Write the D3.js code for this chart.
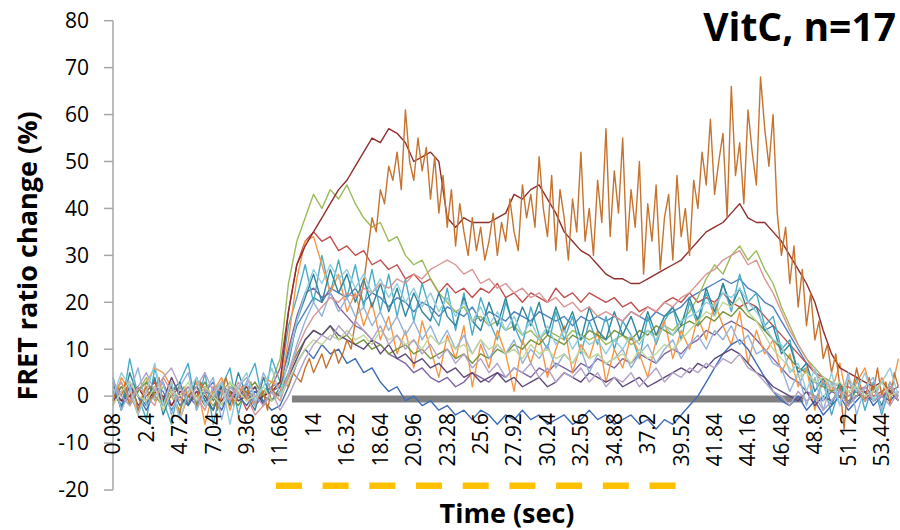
<!DOCTYPE html>
<html lang="en">
<head>
<meta charset="UTF-8">
<title>VitC FRET ratio change</title>
<style>
  body { margin: 0; background: #fff; }
  svg { display: block; }
  .tick-label { font-family: "Open Sans", sans-serif; font-size: 21px; fill: #000; }
  .axis-title { font-family: "Open Sans", sans-serif; font-size: 27px; font-weight: bold; fill: #000; }
  .trace { fill: none; stroke-width: 1.4; stroke-linejoin: round; }
</style>
<script src="https://d3js.org/d3.v7.min.js"></script>
</head>
<body>
<svg width="900" height="530"></svg>
<script>
// sampling times (sec); cell12 was sampled twice as often (half-steps in between)
const time = [
  0.08, 0.66, 1.24, 1.82, 2.40, 2.98, 3.56, 4.14, 4.72, 5.30,
  5.88, 6.46, 7.04, 7.62, 8.20, 8.78, 9.36, 9.94, 10.52, 11.10,
  11.68, 12.26, 12.84, 13.42, 14.00, 14.58, 15.16, 15.74, 16.32, 16.90,
  17.48, 18.06, 18.64, 19.22, 19.80, 20.38, 20.96, 21.54, 22.12, 22.70,
  23.28, 23.86, 24.44, 25.02, 25.60, 26.18, 26.76, 27.34, 27.92, 28.50,
  29.08, 29.66, 30.24, 30.82, 31.40, 31.98, 32.56, 33.14, 33.72, 34.30,
  34.88, 35.46, 36.04, 36.62, 37.20, 37.78, 38.36, 38.94, 39.52, 40.10,
  40.68, 41.26, 41.84, 42.42, 43.00, 43.58, 44.16, 44.74, 45.32, 45.90,
  46.48, 47.06, 47.64, 48.22, 48.80, 49.38, 49.96, 50.54, 51.12, 51.70,
  52.28, 52.86, 53.44, 54.02, 54.60
];

const xTickLabels = ["0.08", "2.4", "4.72", "7.04", "9.36", "11.68", "14", "16.32", "18.64",
  "20.96", "23.28", "25.6", "27.92", "30.24", "32.56", "34.88", "37.2", "39.52",
  "41.84", "44.16", "46.48", "48.8", "51.12", "53.44"];
const yTicks = [-20, -10, 0, 10, 20, 30, 40, 50, 60, 70, 80];

// stimulus markers
const barSpan = [12.5, 48.0];
const barLevel = -0.6;
const pulseSpan = [11.39, 39.16];
const pulseLevel = -19.1;

// FRET ratio change (%), 17 cells
const cell1 = [2, -1, 3, 0, -2, 2, 1, -3, 0, 2,
  -1, 1, 3, -2, 0, 2, -1, 1, 0, 2,
  3, 9, 15, 18, 21, 20, 23, 22, 21, 23,
  20, 22, 21, 19, 21, 20, 18, 20, 19, 17,
  19, 18, 17, 19, 16, 18, 17, 16, 18, 17,
  16, 18, 17, 16, 17, 15, 17, 16, 17, 16,
  17, 16, 18, 17, 16, 18, 17, 18, 19, 21,
  22, 23, 24, 25, 24, 25, 23, 22, 20, 19,
  16, 13, 10, 7, 5, 3, 2, 1, 0, 1,
  -1, 1, 0, -1, 1];
const cell2 = [-1, 2, 0, -3, 1, 3, -2, 0, 2, -1,
  1, -2, 0, 2, -1, 1, -3, 0, 1, 2,
  6, 18, 28, 33, 35, 33, 34, 31, 32, 30,
  31, 28, 29, 27, 28, 25, 26, 24, 25, 22,
  24, 22, 23, 21, 23, 22, 24, 21, 22, 20,
  22, 21, 20, 23, 21, 22, 20, 22, 21, 20,
  21, 19, 20, 18, 19, 18, 20, 21, 20, 22,
  20, 21, 20, 22, 20, 19, 20, 19, 17, 15,
  13, 11, 9, 7, 5, 4, 3, 2, 2, 1,
  2, 0, 1, 2, 0];
const cell3 = [0, 3, -2, 1, 4, -1, 2, 0, -3, 1,
  2, 0, -2, 1, 3, -1, 0, 2, 1, 3,
  8, 24, 33, 38, 43, 40, 44, 42, 45, 41,
  38, 36, 37, 33, 34, 30, 28, 29, 25, 22,
  20, 18, 19, 16, 17, 15, 16, 14, 15, 13,
  14, 12, 14, 13, 12, 14, 13, 12, 13, 11,
  12, 13, 11, 12, 14, 13, 15, 14, 16, 18,
  21, 25, 28, 26, 30, 32, 29, 31, 27, 24,
  19, 15, 11, 8, 6, 4, 3, 2, 1, 0,
  1, -1, 0, 1, -1];
const cell4 = [1, -2, 0, 2, -1, 0, 3, -2, 1, 0,
  -2, 1, 0, -1, 2, 0, 1, -2, 0, 1,
  2, 10, 17, 22, 23, 21, 22, 19, 17, 15,
  14, 12, 11, 9, 8, 7, 5, 6, 4, 3,
  4, 2, 3, 5, 4, 3, 5, 4, 6, 5,
  4, 6, 5, 7, 6, 5, 7, 6, 8, 7,
  6, 8, 7, 9, 8, 7, 9, 10, 9, 11,
  12, 14, 13, 15, 16, 15, 14, 12, 10, 8,
  6, 4, 3, 1, 0, -1, 1, 0, -1, 0,
  1, -1, 0, 1, 0];
const cell5 = [4, -3, 8, 0, -5, 6, -1, -6, 3, 7,
  -3, 5, -6, 2, 6, -4, 3, 7, -2, 8,
  3, 15, 21, 28, 20, 30, 22, 29, 21, 28,
  19, 27, 18, 26, 17, 25, 16, 24, 18, 15,
  23, 14, 22, 13, 21, 16, 12, 20, 15, 11,
  19, 13, 10, 18, 12, 17, 9, 16, 11, 17,
  10, 16, 13, 8, 17, 11, 16, 19, 12, 20,
  15, 22, 17, 24, 18, 26, 20, 22, 15, 17,
  10, 12, 5, 6, -1, 3, -4, 2, -2, 4,
  -3, 3, -4, 2, -1];
const cell6 = [-2, 4, 1, -4, 3, 6, 5, 2, -5, 0,
  3, -6, 1, 4, -3, 2, 0, -2, 4, 3,
  2, 12, 25, 33, 34, 28, 22, 26, 18, 22,
  15, 20, 12, 17, 9, 14, 6, 16, 10, 4,
  13, 8, 15, 2, 11, 6, 14, 9, 1, 12,
  7, 13, 4, 10, 15, 5, 11, 8, 14, 3,
  10, 6, 13, 9, 4, 12, 16, 8, 14, 10,
  17, 12, 20, 15, 11, 18, 7, 14, 9, 12,
  5, 9, 2, 6, -3, 4, 1, 7, -2, 3,
  6, -1, 4, 0, 8];
const cell7 = [1, -2, 2, 0, -3, 1, -1, 2, -2, 0,
  2, -1, 0, -3, 1, 0, -2, 1, -1, -3,
  -2, 2, 7, 10, 8, 11, 9, 10, 7, 8,
  5, 6, 3, 1, 2, -1, 0, -2, -1, -3,
  -2, -4, -3, -5, -3, -4, -6, -4, -5, -3,
  -5, -4, -6, -5, -4, -6, -5, -3, -5, -4,
  -6, -5, -4, -6, -5, -7, -5, -6, -4, -2,
  0, 3, 6, 9, 11, 12, 10, 7, 4, 1,
  -1, -2, 0, -3, -1, -4, -2, 0, -3, -1,
  1, -2, 0, -1, 1];
const cell8 = [1, -1, 0, 2, -1, 1, 0, -2, 1, 0,
  -1, 2, 0, -1, 1, 0, 2, -1, 0, 1,
  3, 18, 28, 32, 35, 38, 41, 44, 46, 49,
  52, 55, 54, 57, 56, 54, 50, 51, 52, 50,
  38, 36, 38, 37, 37, 37, 38, 39, 43, 42,
  44, 45, 42, 39, 35, 33, 31, 30, 28, 26,
  25, 25, 24, 24, 25, 26, 27, 28, 29, 31,
  33, 35, 36, 37, 39, 41, 38, 37, 37, 35,
  33, 30, 27, 24, 20, 14, 9, 6, 5, 4,
  3, 2, 3, 1, 2];
const cell9 = [0, 2, -1, 1, 3, 0, -2, 1, 2, -1,
  0, 3, -1, 2, 0, -2, 1, 3, 0, -1,
  1, 5, 9, 12, 14, 13, 15, 12, 13, 11,
  12, 10, 11, 9, 10, 11, 9, 10, 8, 9,
  10, 8, 9, 7, 9, 8, 10, 9, 11, 10,
  12, 11, 13, 12, 11, 13, 12, 14, 13, 12,
  14, 13, 12, 14, 13, 15, 14, 13, 15, 16,
  15, 17, 16, 18, 17, 19, 17, 16, 14, 12,
  10, 8, 6, 5, 3, 2, 1, 2, 0, 1,
  -1, 1, 0, 2, -1];
const cell10 = [-1, 1, 3, -2, 0, 2, -1, 4, 0, -2,
  1, 0, -3, 2, 1, -1, 0, 2, -2, 1,
  0, 4, 8, 12, 14, 13, 15, 13, 12, 11,
  10, 12, 9, 11, 8, 9, 7, 8, 6, 7,
  5, 6, 4, 5, 3, 4, 5, 3, 4, 2,
  3, 4, 2, 3, 5, 4, 3, 5, 4, 3,
  4, 2, 3, 4, 2, 3, 4, 5, 6, 5,
  7, 6, 8, 9, 10, 9, 7, 5, 4, 2,
  1, 0, -1, 1, -2, 0, -1, 1, -2, 0,
  1, -1, 0, 1, -1];
const cell11 = [3, -3, 5, 0, -2, 4, -4, 1, 3, -2,
  4, -1, -3, 3, -2, 5, 0, -3, 4, -1,
  2, 7, 16, 21, 26, 20, 27, 22, 26, 20,
  25, 19, 24, 18, 23, 17, 22, 18, 16, 22,
  17, 15, 21, 16, 14, 20, 15, 21, 14, 19,
  15, 20, 13, 19, 14, 18, 12, 19, 14, 12,
  18, 13, 17, 12, 18, 13, 17, 19, 15, 21,
  16, 23, 18, 24, 19, 23, 18, 19, 14, 15,
  9, 11, 5, 7, 1, 4, -2, 3, -2, 2,
  -1, 2, -2, 3, -1];
// cell12: twice the sampling rate
const cell12 = [-1, 2, 0, 3, -2, 1, -3, 0, 2, -1, 1, 4, -2, 0, 3, -1, -4, 2, 0, 1,
  -2, 3, 1, -1, 2, -3, 0, 4, 1, -2, 0, 2, -1, 3, -2, 0, 1, -3, 2, 0,
  1, 3, 2, 5, 4, 3, 6, 8, 5, 7, 9, 6, 8, 10, 7, 9, 12, 10, 16, 20,
  24, 31, 38, 35, 44, 41, 49, 46, 52, 44, 61, 50, 46, 55, 48, 53, 42, 51, 39, 47,
  36, 44, 32, 41, 35, 30, 38, 31, 36, 29, 33, 39, 30, 37, 33, 42, 35, 31, 45, 38,
  43, 36, 51, 40, 34, 47, 31, 44, 38, 29, 42, 35, 52, 33, 40, 30, 46, 37, 57, 34,
  48, 39, 55, 31, 44, 36, 50, 26, 41, 33, 45, 27, 38, 43, 29, 47, 34, 40, 30, 46,
  40, 52, 45, 59, 43, 50, 56, 38, 66, 47, 54, 41, 61, 52, 45, 68, 57, 49, 60, 39,
  30, 36, 24, 32, 19, 27, 15, 22, 12, 16, 8, 11, 5, 9, 2, -7, 4, 1, 6, 2,
  -1, 4, 1, 6, 0, 3, -2, 5, 2];
const cell13 = [4, -3, 1, 6, -2, 0, 3, -4, 2, 5,
  -3, 1, 4, -5, 2, 0, 3, -2, 5, 1,
  -1, 5, 11, 16, 20, 17, 22, 18, 21, 17,
  19, 15, 18, 14, 17, 13, 16, 12, 15, 11,
  14, 10, 13, 9, 12, 8, 11, 9, 12, 7,
  10, 8, 11, 6, 9, 7, 10, 5, 9, 7,
  8, 10, 6, 9, 11, 7, 10, 12, 8, 11,
  13, 10, 14, 12, 15, 11, 13, 9, 10, 7,
  6, 1, 5, -2, 4, -3, 3, -2, 5, -4,
  2, 4, -3, 3, -1];
const cell14 = [1, 3, -1, 2, 0, -2, 4, 1, -1, 2,
  0, -3, 2, 1, -1, 3, 0, -4, -2, 1,
  -1, 4, 10, 14, 17, 19, 21, 20, 22, 21,
  23, 22, 24, 23, 25, 24, 26, 25, 27, 28,
  29, 28, 26, 27, 24, 25, 23, 24, 22, 23,
  21, 22, 20, 21, 19, 20, 18, 19, 17, 18,
  17, 16, 18, 17, 19, 18, 20, 19, 21, 22,
  24, 26, 27, 29, 30, 31, 28, 29, 25, 22,
  18, 14, 11, 8, 5, 3, 2, 1, 0, 2,
  -1, 1, 0, 2, -1];
const cell15 = [-2, 1, 3, 0, -1, 2, -3, 1, 0, 3,
  -1, 2, 0, -2, 3, 1, -1, 0, 2, -1,
  0, 3, 7, 10, 12, 11, 13, 12, 14, 12,
  13, 11, 14, 12, 13, 11, 12, 10, 13, 11,
  12, 10, 11, 9, 12, 10, 11, 9, 10, 8,
  11, 9, 10, 8, 9, 7, 10, 8, 9, 7,
  8, 9, 7, 10, 8, 9, 11, 10, 12, 14,
  16, 18, 17, 20, 19, 21, 18, 16, 13, 10,
  8, 6, 4, 5, 3, 4, 2, 3, 1, 2,
  0, 1, 3, 0, 1];
const cell16 = [3, 0, -2, 2, 5, 1, 4, 6, 2, -1,
  2, 5, 1, 3, -1, 2, 4, 0, -2, 1,
  -3, 0, 4, 8, 11, 13, 12, 15, 13, 16,
  14, 12, 15, 11, 13, 10, 12, 9, 11, 8,
  10, 7, 9, 6, 8, 5, 7, 4, 6, 5,
  7, 4, 6, 3, 5, 4, 6, 3, 5, 2,
  4, 3, 5, 2, 4, 6, 3, 5, 4, 6,
  5, 7, 6, 8, 7, 9, 6, 5, 3, 1,
  0, -2, 1, -1, 0, -3, -1, 1, -2, 0,
  2, -1, 0, -2, 1];
const cell17 = [0, 5, 2, -4, 1, 7, -2, 3, -5, 1,
  4, -2, 0, 3, -6, 2, 5, -1, 2, 6,
  0, 8, 16, 22, 27, 24, 28, 25, 27, 23,
  26, 22, 25, 21, 24, 20, 23, 19, 22, 18,
  21, 17, 20, 16, 19, 15, 18, 14, 17, 13,
  16, 12, 15, 11, 14, 10, 13, 11, 12, 9,
  12, 10, 13, 11, 14, 12, 15, 13, 16, 17,
  18, 20, 19, 22, 21, 23, 20, 18, 15, 12,
  11, 5, 7, 1, 6, -1, 5, -2, 4, 1,
  5, -1, 3, 6, 0];

const cells = [cell1, cell2, cell3, cell4, cell5, cell6, cell7, cell8, cell9,
  cell10, cell11, cell12, cell13, cell14, cell15, cell16, cell17];
const colors = ["#4F81BD", "#C0504D", "#9BBB59", "#8064A2", "#4BACC6", "#F79646",
  "#3E6DB5", "#8E2F2D", "#77933C", "#5F497A", "#31859C", "#C6732F",
  "#95B3D7", "#D99694", "#C3D69B", "#B3A2C7", "#93CDDD"];

const svg = d3.select("svg");

const x = d3.scaleLinear().domain([0.08, 53.44]).range([113, 881.7]);
const y = d3.scaleLinear().domain([-20, 80]).range([490, 20.7]);

// time of sample i for a trace of n samples
function sampleTime(i, n) {
  if (n === time.length) return time[i];
  if (i % 2 === 0) return time[i / 2];
  return (time[(i - 1) / 2] + time[(i + 1) / 2]) / 2;
}

// gray stimulus bar on the zero line
svg.append("line")
  .attr("x1", x(barSpan[0])).attr("x2", x(barSpan[1]))
  .attr("y1", y(barLevel)).attr("y2", y(barLevel))
  .attr("stroke", "#808080").attr("stroke-width", 7);

// traces
svg.append("g")
  .selectAll("path")
  .data(cells)
  .join("path")
  .attr("class", "trace")
  .attr("stroke", (d, i) => colors[i])
  .attr("d", d => d3.line()
    .x((v, i) => x(sampleTime(i, d.length)))
    .y(v => y(v))(d));

// yellow dashed pulses
svg.append("line")
  .attr("x1", x(pulseSpan[0])).attr("x2", x(pulseSpan[1]))
  .attr("y1", y(pulseLevel)).attr("y2", y(pulseLevel))
  .attr("stroke", "#FFC000").attr("stroke-width", 6.5)
  .attr("stroke-dasharray", "26 20.7");

// y axis
const yAxis = svg.append("g");
yAxis.append("line")
  .attr("x1", 113).attr("x2", 113)
  .attr("y1", y(-20)).attr("y2", y(80))
  .attr("stroke", "#A6A6A6").attr("stroke-width", 1.5);
yAxis.selectAll(".ytick")
  .data(yTicks)
  .join("line")
  .attr("x1", 104).attr("x2", 113)
  .attr("y1", d => y(d)).attr("y2", d => y(d))
  .attr("stroke", "#A6A6A6").attr("stroke-width", 1.5);
yAxis.selectAll("text")
  .data(yTicks)
  .join("text")
  .attr("class", "tick-label")
  .attr("x", 89)
  .attr("y", d => y(d))
  .attr("dy", "0.35em")
  .attr("text-anchor", "end")
  .text(d => d);

// x tick labels, rotated, hanging below the zero line
svg.append("g")
  .selectAll("text")
  .data(xTickLabels)
  .join("text")
  .attr("class", "tick-label")
  .attr("text-anchor", "end")
  .attr("dy", "0.35em")
  .attr("transform", d => `translate(${x(+d)},413) rotate(-90)`)
  .text(d => d);

// titles
svg.append("text")
  .attr("class", "axis-title")
  .attr("transform", "translate(37,256) rotate(-90)")
  .attr("text-anchor", "middle")
  .text("FRET ratio change (%)");

svg.append("text")
  .attr("class", "axis-title")
  .attr("x", 507).attr("y", 523)
  .attr("text-anchor", "middle")
  .text("Time (sec)");

svg.append("text")
  .attr("class", "axis-title")
  .attr("x", 896).attr("y", 41)
  .attr("text-anchor", "end")
  .style("font-size", "39px")
  .text("VitC, n=17");
</script>
